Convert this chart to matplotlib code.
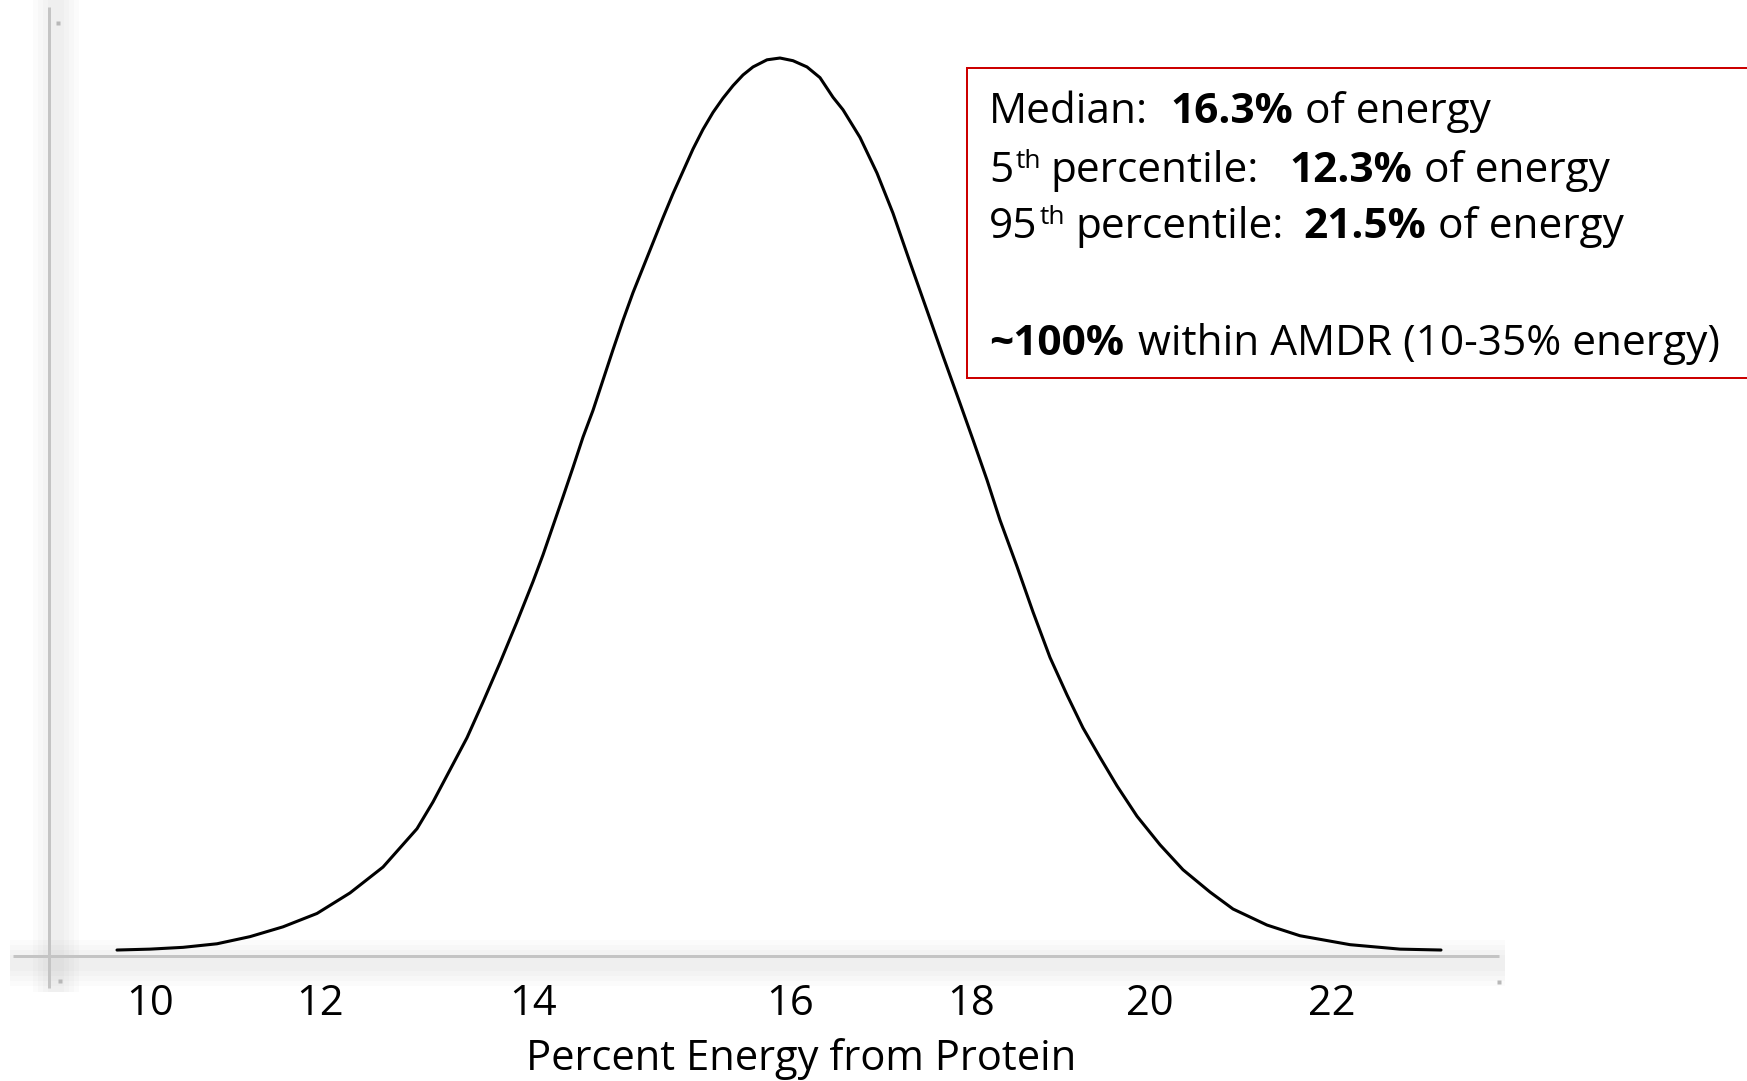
import matplotlib
matplotlib.use("Agg")
import matplotlib.pyplot as plt
from matplotlib.patches import Rectangle

# ---------------- data ----------------
# curve: percent energy from protein (x) vs relative density (peak = 1)
curve_x = [9.67, 10.00, 10.33, 10.67, 11.00, 11.33, 11.67, 12.00, 12.33, 12.67,
           12.83, 13.00, 13.17, 13.33, 13.50, 13.67, 13.83, 13.93, 14.13, 14.23,
           14.33, 14.43, 14.53, 14.63, 14.73, 14.83, 14.93, 15.03, 15.13, 15.23,
           15.33, 15.43, 15.53, 15.63, 15.73, 15.83, 15.93, 16.03, 16.17, 16.30,
           16.43, 16.57, 16.70, 16.83, 16.93, 17.10, 17.27, 17.43, 17.60, 17.77,
           17.93, 18.10, 18.23, 18.37, 18.50, 18.67, 18.83, 19.00, 19.17, 19.33,
           19.50, 19.67, 19.87, 20.10, 20.33, 20.60, 20.83, 21.17, 21.50, 22.00,
           22.50, 22.91]
curve_y = [0.000, 0.001, 0.003, 0.007, 0.015, 0.026, 0.041, 0.064, 0.093, 0.136,
           0.166, 0.202, 0.238, 0.278, 0.322, 0.368, 0.413, 0.443, 0.508, 0.541,
           0.575, 0.605, 0.639, 0.673, 0.706, 0.737, 0.765, 0.793, 0.821, 0.848,
           0.873, 0.898, 0.920, 0.939, 0.955, 0.969, 0.981, 0.990, 0.998, 1.000,
           0.997, 0.990, 0.978, 0.956, 0.942, 0.911, 0.871, 0.826, 0.771, 0.717,
           0.666, 0.613, 0.572, 0.527, 0.482, 0.430, 0.379, 0.328, 0.286, 0.249,
           0.216, 0.184, 0.150, 0.118, 0.090, 0.065, 0.046, 0.028, 0.016, 0.006,
           0.001, 0.000]
# tick labels sit at these (unevenly spaced) positions in the source chart
tick_positions = [10.0, 11.70, 13.83, 16.40, 18.21, 20.00, 21.82]
tick_labels = ["10", "12", "14", "16", "18", "20", "22"]
x_label = "Percent Energy from Protein"

median_val = "16.3%"
p5_val = "12.3%"
p95_val = "21.5%"
amdr_share = "~100%"
amdr_text = "within AMDR (10-35% energy)"

# ---------------- figure ----------------
W, H = 1747, 1081
FONT = "Open Sans"
plt.rcParams["font.family"] = [FONT, "DejaVu Sans"]

fig = plt.figure(figsize=(W / 100, H / 100), dpi=100)
renderer = fig.canvas.get_renderer()

def fit_size(s, target_px, weight="normal"):
    t = fig.text(0, 0, s, fontsize=50, fontweight=weight)
    w = t.get_window_extent(renderer=renderer).width
    t.remove()
    return 50.0 * target_px / w

# background overlay in pixel coordinates (y downwards)
bg = fig.add_axes([0, 0, 1, 1])
bg.set_xlim(0, W)
bg.set_ylim(H, 0)
bg.axis("off")

PX = 0.72  # points per pixel at dpi 100

# soft shadows of the axis lines
for w in (46, 36, 26, 16):
    bg.plot([56, 56], [0, 992], color="black", alpha=0.016, lw=w * PX,
            solid_capstyle="butt", zorder=1)
    bg.plot([10, 1505], [963, 963], color="black", alpha=0.016, lw=w * PX,
            solid_capstyle="butt", zorder=1)
# axis lines
bg.plot([49, 49], [7, 988], color="#c4c4c4", lw=3 * PX, solid_capstyle="butt", zorder=2)
bg.plot([13, 1499], [956, 956], color="#c4c4c4", lw=3 * PX, solid_capstyle="butt", zorder=2)
bg.plot([58, 60, 1499], [23, 981, 982], ls="none", marker="s", ms=2.5,
        color="#b8b8b8", mec="none", zorder=2)

# ---------------- data axes ----------------
ax = fig.add_axes([49 / W, 1 - 956 / H, (1499 - 49) / W, (956 - 7) / H])
ax.patch.set_alpha(0)
for sp in ax.spines.values():
    sp.set_visible(False)
ax.set_xlim(8.99, 23.49)
ax.set_ylim(-0.0067, 1.0572)
ax.plot(curve_x, curve_y, color="black", lw=2.2, solid_joinstyle="round",
        solid_capstyle="round", zorder=3)
ax.set_yticks([])
ax.set_xticks(tick_positions, tick_labels)
ax.tick_params(axis="x", length=0, pad=59 * PX, labelsize=30, labelcolor="black")
for lab in ax.get_xticklabels():
    lab.set_va("baseline")
ax.set_xlabel(x_label, fontsize=fit_size(x_label, 550), color="black")
ax.xaxis.label.set_va("baseline")
ax.xaxis.set_label_coords((801 - 49) / 1450, (956 - 1070) / 949)

# ---------------- annotation box ----------------
bg.add_patch(Rectangle((967, 68), 820, 310, facecolor="white", edgecolor="#cc0000",
                       lw=2 * PX, zorder=4))
fs = fit_size(amdr_text, 583)
sup = fs * 0.62

def text_line(y, runs, x0=989):
    """runs: (string, bold, superscript, gap_before_px)"""
    x = x0
    for s, bold, is_sup, gap in runs:
        x += gap
        t = bg.text(x, y - (14 if is_sup else 0), s, fontsize=sup if is_sup else fs,
                    fontweight="bold" if bold else "normal", va="baseline",
                    ha="left", color="black", zorder=5)
        x = t.get_window_extent(renderer=renderer).x1

text_line(123, [("Median:", False, False, 0), (median_val, True, False, 22),
                ("of energy", False, False, 12)])
text_line(182, [("5", False, False, 0), ("th", False, True, 2),
                ("percentile:", False, False, 10), (p5_val, True, False, 30),
                ("of energy", False, False, 12)])
text_line(238, [("95", False, False, 0), ("th", False, True, 2),
                ("percentile:", False, False, 10), (p95_val, True, False, 20),
                ("of energy", False, False, 12)])
text_line(355, [(amdr_share, True, False, 0), (amdr_text, False, False, 14)])

fig.savefig("out.png", dpi=100)
